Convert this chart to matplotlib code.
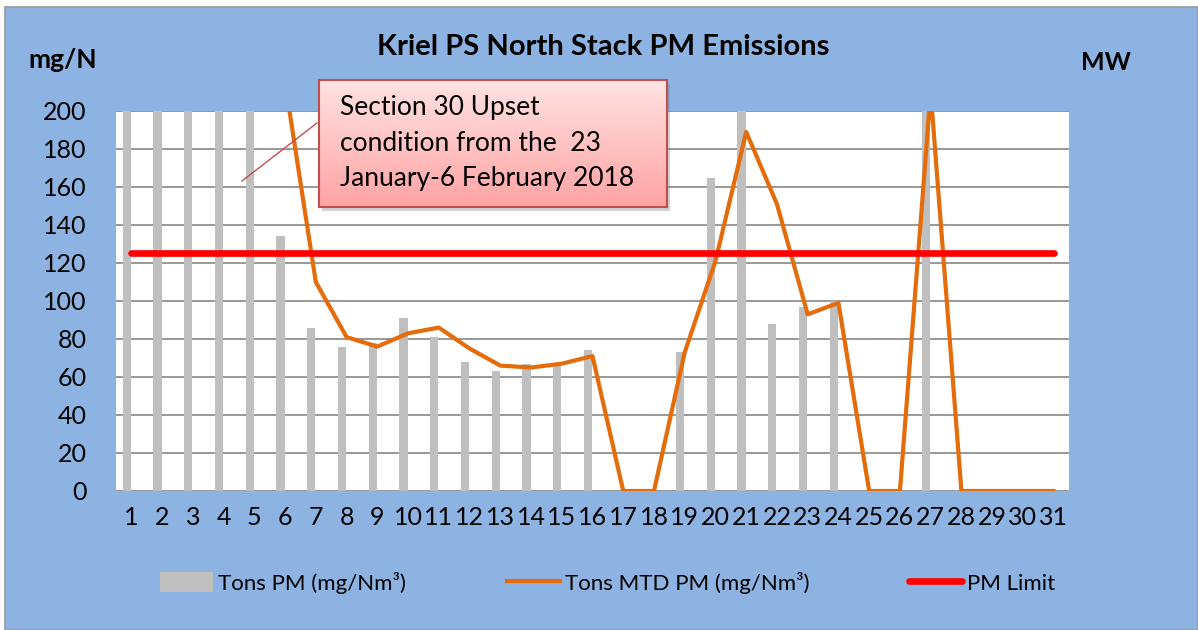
import numpy as np
import matplotlib.pyplot as plt
from matplotlib.patches import Rectangle
from matplotlib.lines import Line2D

plt.rcParams['font.family'] = ['Lato', 'DejaVu Sans']

days = list(range(1, 32))
tons_pm = [230, 230, 230, 230, 230, 134, 86, 76, 78, 91, 81, 68, 63, 67, 66, 74,
           0, 0, 73, 165, 230, 88, 97, 100, 0, 0, 230, 0, 0, 0, 0]
tons_mtd_pm = [260, 255, 250, 245, 240, 215, 110, 81, 76, 83, 86, 75, 66, 65, 67, 71,
               0, 0, 73, 121, 189, 151, 93, 99, 0, 0, 210, 0, 0, 0, 0]
pm_limit = 125
y_ticks = list(range(0, 201, 20))

BG = '#8DB3E2'
W, H = 1198, 630

fig = plt.figure(figsize=(W / 100, H / 100), dpi=100)
fig.patch.set_facecolor('white')
# chart frame
fig.patches.append(Rectangle((5 / W, 0), 1 - 5 / W, 1 - 7 / H, transform=fig.transFigure,
                             facecolor=BG, edgecolor='#9a9a9a', linewidth=1.2, zorder=-5))

ax = fig.add_axes([116 / W, 1 - 491 / H, (1069 - 116) / W, (491 - 111) / H], zorder=1)
ax.set_facecolor('white')
# bars sit slightly left of the category centre (Excel cluster gap)
ax.bar(np.array(days) - 0.15, tons_pm, width=0.27, color='#BFBFBF', zorder=2)
ax.plot(days, tons_mtd_pm, color='#E46C0A', linewidth=3.0, zorder=3)
ax.plot([days[0], days[-1]], [pm_limit, pm_limit], color='#FF0000', linewidth=4.8,
        solid_capstyle='round', zorder=4)

ax.set_xlim(0.5, 31.5)
ax.set_ylim(0, 200)
ax.set_xticks(days)
ax.set_yticks(y_ticks)
ax.tick_params(axis='both', length=0, labelsize=18)
ax.tick_params(axis='x', pad=11)
ax.tick_params(axis='y', pad=21)
ax.grid(axis='y', color='#868686', linewidth=1.2, zorder=1)
for s in ax.spines.values():
    s.set_visible(False)

fig.text(603 / W, 1 - 47 / H, 'Kriel PS North Stack PM Emissions', ha='center', va='center',
         fontsize=21, fontweight='bold')
fig.text(28 / W, 1 - 60 / H, 'mg/N', ha='left', va='center', fontsize=19, fontweight='bold')
fig.text(1106 / W, 1 - 62 / H, 'MW', ha='center', va='center', fontsize=18, fontweight='bold')

# callout box with gradient fill
bx0, by0, bx1, by1 = 319, 80, 667, 207
fig.patches.append(Rectangle(((bx0 + 3) / W, 1 - (by1 + 4) / H), (bx1 - bx0) / W, (by1 - by0) / H,
                             transform=fig.transFigure, facecolor='#7f7f7f', alpha=0.35,
                             edgecolor='none', zorder=5))
box = fig.add_axes([bx0 / W, 1 - by1 / H, (bx1 - bx0) / W, (by1 - by0) / H], zorder=6)
grad = np.linspace(0, 1, 100).reshape(-1, 1)
top = np.array([1.0, 0.89, 0.89])
bot = np.array([1.0, 0.64, 0.64])
img = top + (bot - top) * grad[:, :, None]
box.imshow(img, aspect='auto', extent=[0, 1, 0, 1], origin='upper')
box.set_xticks([])
box.set_yticks([])
for s in box.spines.values():
    s.set_color('#C0504D')
    s.set_linewidth(1.5)
for i, line in enumerate(['Section 30 Upset', 'condition from the  23', 'January-6 February 2018']):
    box.text(21 / (bx1 - bx0), 1 - (108 + i * 35.5 - by0) / (by1 - by0), line,
             transform=box.transAxes, ha='left', va='center', fontsize=19)
fig.lines.append(Line2D([317 / W, 242 / W], [1 - 123 / H, 1 - 181 / H], transform=fig.transFigure,
                        color='#C0504D', linewidth=1.0, zorder=5))

# legend entries
handles = [Rectangle((0, 0), 1, 1, facecolor='#BFBFBF', edgecolor='none'),
           Line2D([0], [0], color='#E46C0A', linewidth=3.0),
           Line2D([0], [0], color='#FF0000', linewidth=4.8, solid_capstyle='round')]
labels = ['Tons PM (mg/Nm³)', 'Tons MTD PM (mg/Nm³)', 'PM Limit']
xs = [160, 507, 909]
for h, lab, x in zip(handles, labels, xs):
    leg = fig.legend([h], [lab], loc='center left', bbox_to_anchor=(x / W, 1 - 583 / H),
                     frameon=False, fontsize=16, handlelength=2.4, handleheight=1.0,
                     handletextpad=0.2, borderpad=0, borderaxespad=0)

fig.savefig('out.png', dpi=100, facecolor=fig.get_facecolor())
